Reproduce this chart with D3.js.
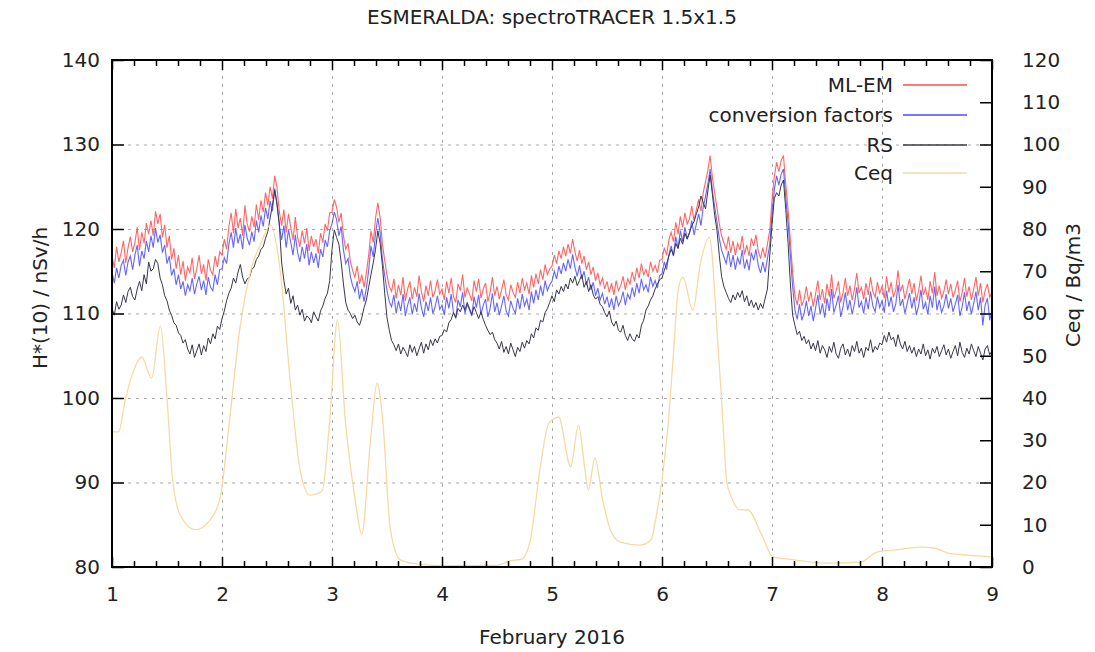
<!DOCTYPE html>
<html><head><meta charset="utf-8">
<script src="https://cdn.jsdelivr.net/npm/d3@7/dist/d3.min.js"></script>
<style>
body{margin:0;background:#fff}
text{font-family:"DejaVu Sans",Verdana,sans-serif;fill:#222}
</style>
</head><body>
<svg id="chart" width="1095" height="652"></svg>
<script>
// ---------- data ----------
const chartTitle = "ESMERALDA: spectroTRACER 1.5x1.5";
const xTitle = "February 2016";
const yLeftTitle = "H*(10) / nSv/h";
const yRightTitle = "Ceq / Bq/m3";
const xTicks = [1,2,3,4,5,6,7,8,9];
const leftTicks = [80,90,100,110,120,130,140];
const rightTicks = [0,10,20,30,40,50,60,70,80,90,100,110,120];
const seriesNames = ["ML-EM","conversion factors","RS","Ceq"];
const startDay = 1;          // 1 Feb 00:00
const samplesPerDay = 48;    // half-hourly values below

const mlem = [
116.8,115.4,117.9,116.1,117.2,118.6,116.0,117.8,119.1,117.3,118.4,120.2,117.5,119.6,118.3,120.7,119.4,121.0,119.2,122.1,120.6,121.8,119.0,120.5,117.8,119.2,116.4,117.7,115.3,116.9,114.6,116.2,113.9,115.5,114.8,116.6,114.1,115.3,116.9,114.7,115.8,113.9,116.4,115.1,114.6,116.8,115.5,117.3,
116.9,118.8,117.6,120.3,121.9,119.5,122.4,120.1,121.3,119.2,122.8,120.6,119.7,121.5,120.2,122.9,121.1,123.4,122.0,124.3,122.8,125.0,123.6,126.3,124.9,122.1,120.4,122.3,119.6,121.8,120.2,118.7,121.4,119.0,117.9,119.8,118.3,120.1,117.4,119.2,117.9,118.8,117.1,119.5,118.4,120.6,119.8,121.9,
122.0,123.5,122.6,120.8,121.9,119.2,117.6,118.3,116.2,115.1,114.3,115.6,113.5,114.6,113.1,114.8,116.9,119.8,118.4,121.3,123.1,121.4,118.2,116.3,114.5,113.2,112.6,114.1,111.8,113.4,112.2,114.3,111.5,112.9,113.8,111.7,113.1,112.0,114.5,112.6,111.4,113.3,112.1,113.9,111.9,112.7,114.0,112.3,
112.9,111.6,113.8,112.4,114.2,112.0,111.3,113.5,112.7,114.6,111.9,113.0,112.3,111.5,113.9,112.6,114.1,111.8,112.9,113.6,111.4,112.5,114.3,112.1,113.2,111.7,112.8,114.0,112.2,111.6,113.4,112.5,111.9,113.7,112.4,114.2,112.8,113.6,112.3,114.5,113.1,114.7,113.5,115.2,114.0,115.8,114.6,115.3,
115.6,116.9,115.9,117.4,116.5,117.9,116.8,118.2,117.1,118.8,117.3,116.2,117.5,115.9,116.8,115.2,116.1,114.6,115.5,113.9,114.8,113.4,114.2,112.9,113.8,112.5,113.6,112.2,113.9,112.7,113.3,114.4,112.8,114.1,113.5,114.9,113.8,115.4,114.2,115.9,114.6,115.2,114.3,116.1,115.0,115.7,114.8,116.3,
116.4,117.8,116.9,118.7,119.6,118.5,120.8,119.4,121.5,120.2,121.9,120.6,121.2,122.7,121.0,122.3,123.5,122.1,124.3,125.6,126.9,128.7,126.1,124.2,122.5,120.6,119.2,118.4,117.6,119.1,117.2,118.6,116.9,118.3,117.5,119.2,117.0,118.1,116.8,118.9,118.0,119.3,117.4,116.5,117.8,116.6,118.2,119.8,
123.4,126.2,127.9,126.8,128.1,128.7,125.3,122.4,118.6,114.9,112.1,111.0,112.8,110.9,111.7,113.2,111.4,112.6,110.8,112.3,113.9,111.6,112.9,111.2,113.5,112.0,114.6,111.8,112.7,113.8,111.3,112.5,114.2,112.1,113.3,111.6,112.9,114.8,112.4,113.1,111.7,113.6,112.2,114.3,112.6,111.9,113.7,112.4,
113.2,111.8,114.4,112.5,113.7,111.9,112.8,115.1,112.6,113.4,111.7,112.9,114.1,112.3,113.6,111.5,112.7,114.5,112.2,113.0,111.6,113.8,112.4,114.9,112.1,113.3,111.8,112.6,114.0,112.3,113.5,111.9,112.8,113.9,111.4,112.5,114.2,112.0,113.2,111.6,112.9,114.3,112.1,113.6,111.3,112.7,113.5,111.9,
112.6];

const convFactors = [
114.9,113.6,115.4,114.2,115.7,116.3,114.5,116.1,116.8,115.2,116.9,118.1,115.6,117.4,116.5,118.6,117.3,119.2,117.8,120.1,118.4,119.3,117.2,118.1,115.9,116.8,114.5,115.3,113.4,114.6,112.9,113.8,112.1,113.4,112.7,114.2,112.3,113.5,114.4,112.8,113.9,112.2,114.3,113.1,112.7,114.6,113.4,115.2,
115.3,116.6,115.9,118.2,119.6,117.8,120.1,118.3,119.4,117.6,120.5,118.9,118.1,119.7,118.5,121.0,119.6,121.6,120.3,122.5,121.2,123.3,122.1,124.8,123.0,120.5,118.7,120.4,117.8,119.9,118.4,116.9,119.3,117.2,116.1,117.9,116.5,118.2,115.7,117.3,116.0,117.1,115.4,117.6,116.7,118.7,117.9,119.8,
120.6,122.0,121.1,119.2,120.3,117.5,115.9,116.5,114.4,113.3,112.6,113.8,111.7,112.9,111.4,113.0,115.1,118.0,116.7,119.5,121.3,119.6,116.4,114.5,112.7,111.4,110.8,112.2,110.0,111.5,110.3,112.3,109.7,111.0,111.9,109.9,111.2,110.2,112.4,110.7,109.6,111.4,110.3,111.9,110.0,110.8,112.1,110.5,
111.0,109.8,111.9,110.6,112.3,110.1,109.5,111.6,110.8,112.5,110.0,111.1,110.4,109.7,112.0,110.7,112.2,109.9,111.0,111.7,109.6,110.6,112.4,110.2,111.3,109.8,110.9,112.1,110.3,109.7,111.5,110.6,110.0,111.8,110.5,112.3,110.9,111.7,110.4,112.6,111.2,112.8,111.6,113.3,112.1,113.9,112.7,113.4,
113.8,115.0,114.1,115.6,114.7,116.0,115.0,116.4,115.3,117.0,115.5,114.4,115.7,114.1,115.0,113.4,114.3,112.8,113.7,112.1,113.0,111.6,112.4,111.1,112.0,110.7,111.8,110.4,112.1,110.9,111.5,112.6,111.0,112.3,111.7,113.1,112.0,113.6,112.4,114.1,112.8,113.4,112.5,114.3,113.2,113.9,113.0,114.5,
114.7,116.1,115.2,117.0,118.0,116.8,119.1,117.7,119.8,118.5,120.2,118.9,119.5,121.0,119.3,120.6,121.8,120.4,122.6,123.9,125.3,127.1,124.5,122.6,120.8,118.9,117.5,116.7,115.9,117.4,115.5,116.9,115.2,116.6,115.8,117.5,115.3,116.4,115.1,117.2,116.3,117.6,115.7,114.8,116.1,114.9,116.5,118.1,
121.7,124.6,126.3,125.2,126.5,127.1,123.7,120.8,117.0,113.2,110.4,109.3,111.1,109.2,110.0,111.5,109.7,110.9,109.1,110.6,112.2,109.9,111.2,109.5,111.8,110.3,112.9,110.1,111.0,112.1,109.6,110.8,112.5,110.4,111.6,109.9,111.2,113.1,110.7,111.4,110.0,111.9,110.5,112.6,110.9,110.2,112.0,110.7,
111.5,110.1,112.7,110.8,112.0,110.2,111.1,113.4,110.9,111.7,110.0,111.2,112.4,110.6,111.9,109.8,111.0,112.8,110.5,111.3,109.9,112.1,110.7,113.2,110.4,111.6,110.1,110.9,112.3,110.6,111.8,110.2,111.1,112.2,109.7,110.8,112.5,110.3,111.5,109.9,111.2,112.6,110.4,111.9,108.6,111.0,111.8,109.2,
110.4];

const rsValues = [
110.6,109.8,111.4,110.5,111.0,112.2,111.3,112.6,113.1,112.0,111.6,112.9,113.8,112.7,114.6,113.5,116.1,115.0,115.3,116.4,115.9,114.2,113.4,112.1,111.5,110.4,109.8,108.9,108.6,107.7,107.4,106.5,106.9,105.8,105.2,106.3,104.8,105.6,106.4,105.1,106.2,105.5,107.1,106.4,107.6,107.0,108.5,108.1,
109.4,110.3,111.5,112.4,113.0,114.2,113.6,114.9,115.8,114.3,113.5,114.1,114.3,115.2,115.5,116.4,116.8,117.6,117.9,118.9,119.7,121.3,122.8,124.6,122.9,120.6,116.1,113.9,112.3,113.0,111.2,112.1,110.4,111.0,109.8,110.5,109.1,109.7,109.5,108.9,110.2,109.6,109.1,110.3,110.9,111.8,112.4,113.9,
117.6,119.9,119.0,118.2,116.1,113.5,111.3,110.4,110.0,109.4,109.8,109.0,108.6,109.5,110.7,111.6,113.1,114.6,116.0,117.6,119.8,118.3,115.7,112.4,109.5,108.0,106.8,106.3,105.6,106.4,105.2,106.0,105.5,104.9,106.3,105.4,106.1,105.0,105.8,106.6,105.3,106.4,105.7,106.9,106.2,107.0,106.5,107.3,
107.4,108.1,107.8,108.9,109.3,110.1,109.5,110.6,110.2,111.0,110.4,111.3,110.6,109.9,110.8,110.1,109.4,110.2,109.3,108.6,108.0,107.5,107.8,106.9,106.5,105.8,106.7,105.4,106.1,105.2,106.5,105.7,104.9,106.0,105.5,106.6,105.9,106.8,106.4,107.6,107.1,108.3,108.0,109.2,109.0,110.1,110.6,111.3,
112.1,111.4,112.8,112.3,113.2,112.6,113.5,112.9,114.2,113.6,114.4,113.3,113.9,114.6,113.1,113.8,112.6,113.4,112.2,111.7,112.0,111.1,110.8,110.1,109.6,110.3,109.0,108.5,109.1,108.0,107.8,108.6,107.4,106.8,107.6,107.0,106.7,107.5,107.1,108.6,109.2,110.4,110.9,111.6,112.1,112.9,113.5,114.0,
114.2,115.1,115.9,116.8,117.6,116.9,118.3,117.7,118.9,118.2,119.5,118.8,119.6,120.4,120.9,121.8,122.6,123.9,123.1,122.4,124.5,126.4,124.1,121.6,119.8,116.9,114.4,113.2,112.5,111.8,111.3,112.2,111.6,112.5,111.9,112.7,111.4,112.1,110.9,111.6,110.7,111.3,110.4,111.2,110.6,111.8,112.9,116.8,
120.5,123.6,124.3,123.9,125.2,125.8,122.3,118.4,113.6,109.8,108.6,107.5,107.9,106.8,107.3,106.4,106.9,105.8,106.5,105.6,106.8,105.3,106.2,105.7,104.8,106.1,105.4,106.6,105.2,104.7,105.9,106.4,105.1,105.8,104.9,106.2,105.5,106.7,105.3,105.9,104.8,106.0,105.6,106.9,105.4,106.1,105.7,106.5,
106.3,107.4,106.6,107.8,106.9,107.2,106.1,107.5,106.4,105.8,106.7,105.5,106.2,105.3,106.0,104.9,105.8,105.2,106.4,105.0,105.7,104.6,105.9,105.3,106.1,104.9,105.6,106.3,105.1,105.8,104.7,105.5,106.2,105.0,106.6,105.4,104.8,105.9,105.2,106.4,105.6,104.9,106.1,105.3,104.5,105.8,106.2,105.1,
105.6];

// Ceq (right axis) read at irregular days
const ceqDays = [1.00,1.06,1.12,1.19,1.27,1.36,1.44,1.50,1.55,1.62,1.76,1.89,1.98,2.07,2.16,2.26,2.36,2.44,2.53,2.62,2.71,2.80,2.91,2.98,
3.05,3.12,3.21,3.27,3.35,3.41,3.46,3.53,3.62,3.75,4.00,4.50,4.62,4.72,4.80,4.89,4.97,5.06,5.17,5.24,5.30,5.33,5.39,5.46,5.53,5.62,5.80,5.90,5.94,
6.00,6.06,6.10,6.15,6.19,6.28,6.35,6.43,6.51,6.55,6.59,6.63,6.71,6.78,6.90,7.01,7.20,7.51,7.81,7.96,8.11,8.35,8.47,8.60,8.78,9.00];
const ceqValues = [32,32,39.5,46,49.7,44.7,57,40,21,12.3,8.8,11.1,16,35,56,70,77,81,70,44,23,17,18,35,
58.5,35,16,7.8,30,43.5,35,9,1.7,0.8,0.3,0.4,1.5,1.8,6,23,34,35.5,23.7,33.6,23,18.2,25.8,16,8.8,5.9,5.2,6.4,11,
20.6,35,49,66,68.6,60.8,72,78,52,36,20,16.6,13.5,13.5,8,2.4,1.7,0.9,1.2,3.6,4,4.7,4.5,3.3,2.8,2.4];

// ---------- layout ----------
const L = 112, R = 992, T = 60, B = 567;
const colors = {mlem:"#ff4a4a", conv:"#4a4aff", rs:"#383848", ceq:"#f7d9a4"};

const svg = d3.select("#chart");
const x = d3.scaleLinear().domain([1,9]).range([L,R]);
const yL = d3.scaleLinear().domain([80,140]).range([B,T]);
const yR = d3.scaleLinear().domain([0,120]).range([B,T]);

// grid
const grid = svg.append("g").attr("stroke","#aaa").attr("stroke-width",1).attr("stroke-dasharray","3,5");
grid.selectAll("line.v").data(xTicks.slice(1,-1)).join("line")
  .attr("x1",d=>x(d)+0.5).attr("x2",d=>x(d)+0.5).attr("y1",T).attr("y2",B);
grid.selectAll("line.h").data(leftTicks.slice(1,-1)).join("line")
  .attr("x1",L).attr("x2",R).attr("y1",d=>yL(d)+0.5).attr("y2",d=>yL(d)+0.5);

// series
const tOf = i => startDay + i/samplesPerDay;
function hLine(arr){
  return d3.line().x((d,i)=>x(tOf(i))).y(d=>yL(d))(arr);
}
svg.append("clipPath").attr("id","pc").append("rect")
  .attr("x",L).attr("y",T).attr("width",R-L).attr("height",B-T);
const plot = svg.append("g").attr("clip-path","url(#pc)");
plot.append("path").attr("d",hLine(mlem)).attr("fill","none").attr("stroke",colors.mlem).attr("stroke-width",1.1).attr("stroke-opacity",0.85);
plot.append("path").attr("d",hLine(convFactors)).attr("fill","none").attr("stroke",colors.conv).attr("stroke-width",1.1).attr("stroke-opacity",0.85);
plot.append("path").attr("d",hLine(rsValues)).attr("fill","none").attr("stroke",colors.rs).attr("stroke-width",1.0);
const ceqLine = d3.line().curve(d3.curveMonotoneX).x((d,i)=>x(ceqDays[i])).y(d=>yR(d));
plot.append("path").attr("d",ceqLine(ceqValues)).attr("fill","none").attr("stroke",colors.ceq).attr("stroke-width",1.3);

// axes
const fs = "20px";
const minorX = d3.range(0,41).map(i=>1+i*0.2).filter(v=>Math.abs(v-Math.round(v))>1e-6);
function styleAxis(g){ g.select(".domain").remove(); g.selectAll("line").attr("stroke","#000").attr("stroke-width",1.5); g.selectAll("text").style("font-size",fs).attr("fill","#222"); }
svg.append("g").attr("transform",`translate(0,${B})`)
  .call(d3.axisBottom(x).tickValues(xTicks).tickFormat(d3.format("d")).tickSizeInner(-10).tickSizeOuter(0).tickPadding(20)).call(styleAxis);
svg.append("g").attr("transform",`translate(0,${B})`)
  .call(d3.axisBottom(x).tickValues(minorX).tickFormat("").tickSizeInner(-6).tickSizeOuter(0)).call(styleAxis);
svg.append("g").attr("transform",`translate(0,${T})`)
  .call(d3.axisTop(x).tickValues(xTicks).tickFormat("").tickSizeInner(-10).tickSizeOuter(0)).call(styleAxis);
svg.append("g").attr("transform",`translate(0,${T})`)
  .call(d3.axisTop(x).tickValues(minorX).tickFormat("").tickSizeInner(-6).tickSizeOuter(0)).call(styleAxis);
svg.append("g").attr("transform",`translate(${L},0)`)
  .call(d3.axisLeft(yL).tickValues(leftTicks).tickFormat(d3.format("d")).tickSizeInner(-12).tickSizeOuter(0).tickPadding(12)).call(styleAxis);
svg.append("g").attr("transform",`translate(${R},0)`)
  .call(d3.axisRight(yR).tickValues(rightTicks).tickFormat(d3.format("d")).tickSizeInner(-12).tickSizeOuter(0).tickPadding(30)).call(styleAxis);

// frame
svg.append("rect").attr("x",L).attr("y",T).attr("width",R-L).attr("height",B-T)
  .attr("fill","none").attr("stroke","#000").attr("stroke-width",2);

// titles
svg.append("text").attr("x",552).attr("y",24).attr("text-anchor","middle").style("font-size","20px").text(chartTitle);
svg.append("text").attr("x",552).attr("y",644).attr("text-anchor","middle").style("font-size","20px").text(xTitle);
svg.append("text").attr("transform","translate(47,298) rotate(-90)").attr("text-anchor","middle").style("font-size","20px").text(yLeftTitle);
svg.append("text").attr("transform","translate(1080,285) rotate(-90)").attr("text-anchor","middle").style("font-size","20px").text(yRightTitle);

// legend
const legColors = [colors.mlem, colors.conv, colors.rs, colors.ceq];
const legY = [85,115,145,173];
const leg = svg.append("g");
seriesNames.forEach((n,i)=>{
  leg.append("text").attr("x",893).attr("y",legY[i]).attr("dy","0.35em").attr("text-anchor","end").style("font-size","20px").text(n);
  leg.append("line").attr("x1",903).attr("x2",967).attr("y1",legY[i]).attr("y2",legY[i]).attr("stroke",legColors[i]).attr("stroke-width",1.3);
});
</script>
</body></html>
